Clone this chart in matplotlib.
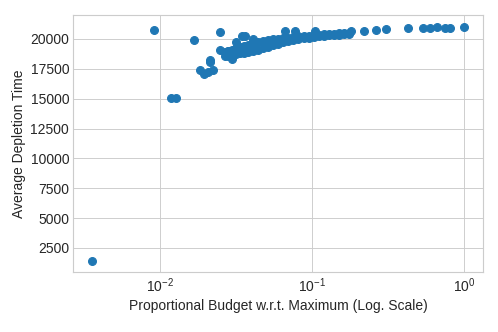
import matplotlib
matplotlib.use("Agg")
import matplotlib.pyplot as plt

plt.style.use('seaborn-v0_8-whitegrid')
plt.rcParams['font.family'] = ['Liberation Sans', 'DejaVu Sans']
plt.rcParams['font.size'] = 12

# scattered points at the low-budget end
budget_sparse = [0.00356, 0.00917, 0.01183, 0.01277, 0.01663,
                 0.0182, 0.0193, 0.0207, 0.0223, 0.02143, 0.0214,
                 0.0247, 0.0247, 0.0281, 0.0295, 0.0315, 0.0343, 0.0361,
                 0.0335, 0.0370, 0.0409, 0.0409]
depletion_sparse = [1450, 20775, 15085, 15085, 19917,
                    17418, 17085, 17220, 17418, 18250, 18025,
                    20550, 19084, 18967, 18334, 19717, 20275, 20275,
                    18885, 19025, 20000, 19300]

# dense band in the middle
budget_band = [0.0267, 0.0267, 0.0279, 0.0279, 0.0297, 0.0297, 0.0315, 0.0315,
               0.0335, 0.0335, 0.0356, 0.0356, 0.0379, 0.0379,
               0.0409, 0.0409, 0.0409, 0.0441, 0.0441, 0.0476, 0.0476,
               0.0514, 0.0514, 0.0554, 0.0554, 0.0598, 0.0598,
               0.0646, 0.0646, 0.0665, 0.0697, 0.0697, 0.0752, 0.0752, 0.0774,
               0.0812, 0.0812, 0.0876, 0.0876, 0.0945, 0.0945,
               0.102, 0.102, 0.105, 0.110, 0.110, 0.119, 0.119,
               0.128, 0.128, 0.138, 0.138, 0.149, 0.149, 0.161, 0.161,
               0.174, 0.174]
depletion_band = [18530, 18900, 18600, 19000, 18650, 19100, 18700, 19250,
                  18780, 19350, 18850, 19400, 18900, 19500,
                  18950, 19700, 19300, 19050, 19750, 19250, 19850,
                  19350, 19900, 19450, 19950, 19600, 20000,
                  19700, 20050, 20630, 19800, 20100, 19900, 20150, 20630,
                  20000, 20200, 20050, 20250, 20100, 20280,
                  20150, 20320, 20650, 20200, 20350, 20250, 20380,
                  20300, 20420, 20330, 20440, 20360, 20460, 20390, 20480,
                  20420, 20500]

# high-budget tail
budget_tail = [0.1795, 0.2178, 0.2626, 0.3056, 0.4256, 0.535, 0.592,
               0.656, 0.745, 0.80, 1.0]
depletion_tail = [20633, 20691, 20750, 20800, 20916, 20916, 20916,
                  20966, 20916, 20916, 21025]

budget = budget_sparse + budget_band + budget_tail
depletion = depletion_sparse + depletion_band + depletion_tail

fig = plt.figure(figsize=(6, 4), dpi=83)
ax = fig.add_subplot(111)
ax.scatter(budget, depletion, s=46)
ax.set_xscale('log')
ax.set_xlabel('Proportional Budget w.r.t. Maximum (Log. Scale)')
ax.set_ylabel('Average Depletion Time')
fig.subplots_adjust(left=0.147, right=0.970, bottom=0.180, top=0.955)
fig.savefig('out.png', dpi=83)
